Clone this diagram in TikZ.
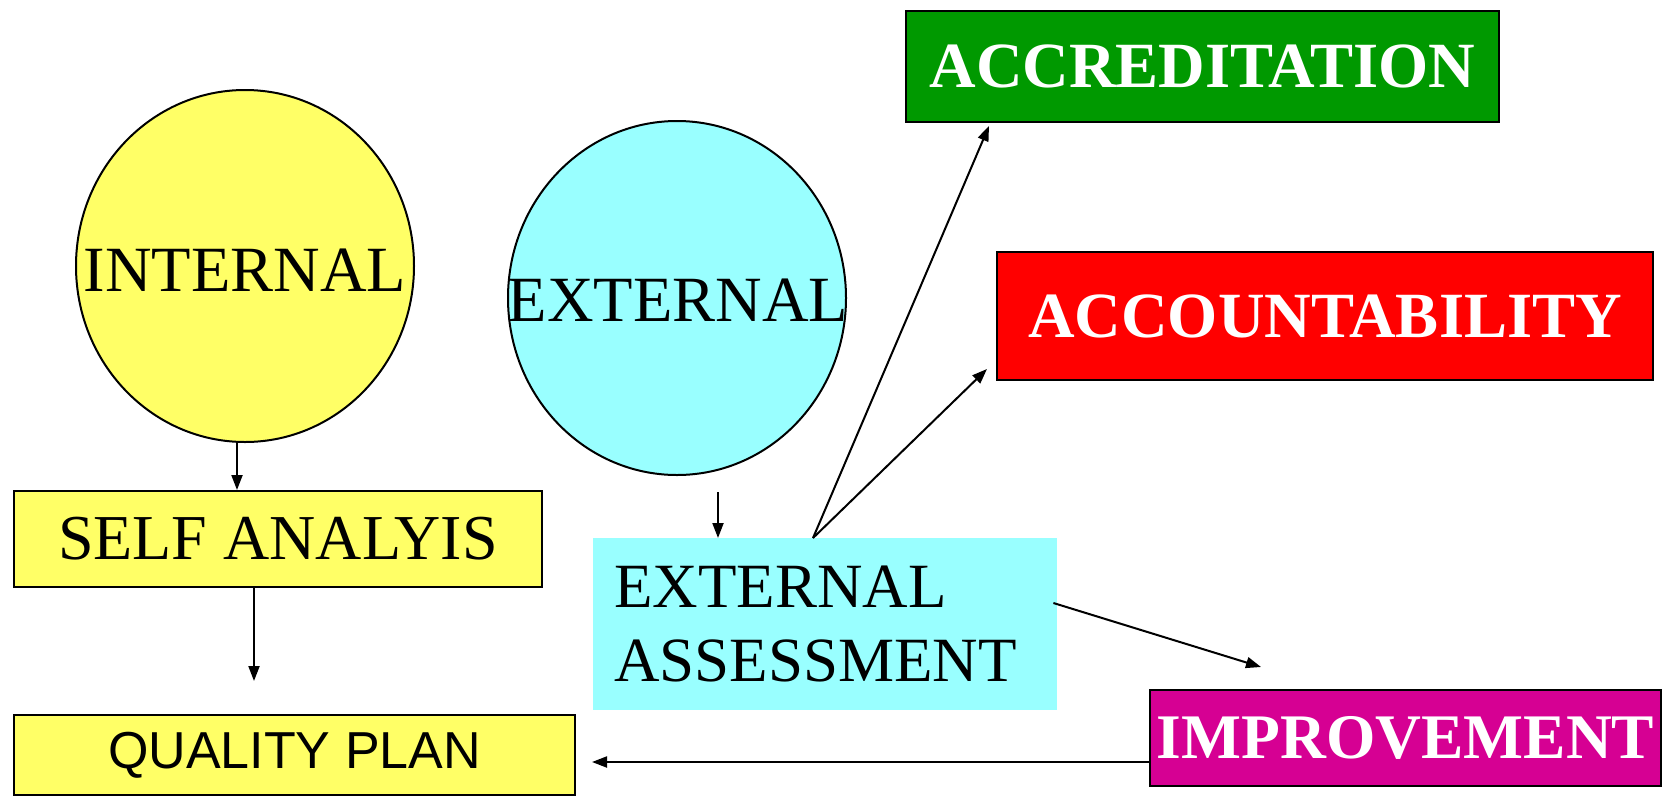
\documentclass[tikz,border=0pt]{standalone}
\usepackage{fontspec}
\setmainfont{Liberation Serif}
\newfontfamily\qpfont{Liberation Sans}
\usetikzlibrary{shapes.geometric,arrows.meta,calc}
\definecolor{cyel}{HTML}{FFFF66}
\definecolor{ccyan}{HTML}{99FFFF}
\definecolor{cgreen}{HTML}{009900}
\definecolor{cred}{HTML}{FF0000}
\definecolor{cmag}{HTML}{D60093}
\tikzset{
  box/.style={draw=black, line width=2pt, inner sep=0pt, anchor=north west},
  circ/.style={ellipse, draw=black, line width=2pt, inner sep=0pt},
  arr/.style={line width=2pt, -{Triangle[length=15pt,width=11pt]}},
  big/.style={font=\fontsize{64.5}{74}\selectfont},
  whitebold/.style={text=white},
}
\begin{document}
\begin{tikzpicture}[x=1pt,y=-1pt]
\useasboundingbox[fill=white] (0,0) rectangle (1668,796);
% circles
\node[circ, fill=cyel, minimum width=338pt, minimum height=352pt] (int) at (245,266) {};
\node[big] (intt) at (245,270) {INTERNAL};
\node[circ, fill=ccyan, minimum width=338pt, minimum height=354pt] (ext) at (677,298) {};
\node[big] (extt) at (678,300) {EXTERNAL};
% boxes
\node[box, fill=cyel, minimum width=528pt, minimum height=96pt] (self) at (13,490) {\fontsize{64}{74}\selectfont SELF ANALYIS};
\node[box, fill=cyel, minimum width=561pt, minimum height=80pt] (qp) at (13,714) {\qpfont\fontsize{52}{60}\selectfont QUALITY PLAN};
\node[anchor=north west, fill=ccyan, minimum width=464pt, minimum height=172pt, inner xsep=21pt, inner ysep=0pt, text width=422pt, align=left, font=\fontsize{63}{74}\selectfont] (ea) at (593,538) {EXTERNAL\\ASSESSMENT};
\node[box, fill=cgreen, minimum width=593pt, minimum height=111pt, whitebold, font=\fontsize{64.5}{74}\selectfont\bfseries] (accr) at (905,10) {ACCREDITATION};
\node[box, fill=cred, minimum width=656pt, minimum height=128pt, whitebold, font=\fontsize{64.5}{74}\selectfont\bfseries] (acco) at (996,251) {ACCOUNTABILITY};
\node[box, fill=cmag, minimum width=511pt, minimum height=96pt, whitebold, font=\fontsize{63.5}{74}\selectfont\bfseries] (imp) at (1149,689) {IMPROVEMENT};
% helper coordinates
\coordinate (eatop) at ($(ea.north west)+(220,0)$);
\coordinate (earight) at ($(ea.north east)+(-4,65)$);
\coordinate (impin) at ($(imp.north west)+(112,-22)$);
\coordinate (impout) at ($(imp.north west)+(0,73)$);
% arrows
\draw[arr] ([xshift=-8pt]int.south) -- ([xshift=-8pt]int.south |- self.north);
\draw[arr] ([xshift=-24pt]self.south) -- ([xshift=-24pt,yshift=33pt]self.south |- qp.north);
\draw[arr] ([xshift=41pt,yshift=-16pt]ext.south) -- ([xshift=41pt]ext.south |- ea.north);
\draw[arr] (eatop) -- ([xshift=84pt,yshift=-3pt]accr.south west);
\draw[arr] (eatop) -- ([xshift=-9pt,yshift=12pt]acco.south west);
\draw[arr] (earight) -- (impin);
\draw[arr] (impout) -- ([xshift=16pt]impout -| qp.east);
\end{tikzpicture}
\end{document}
